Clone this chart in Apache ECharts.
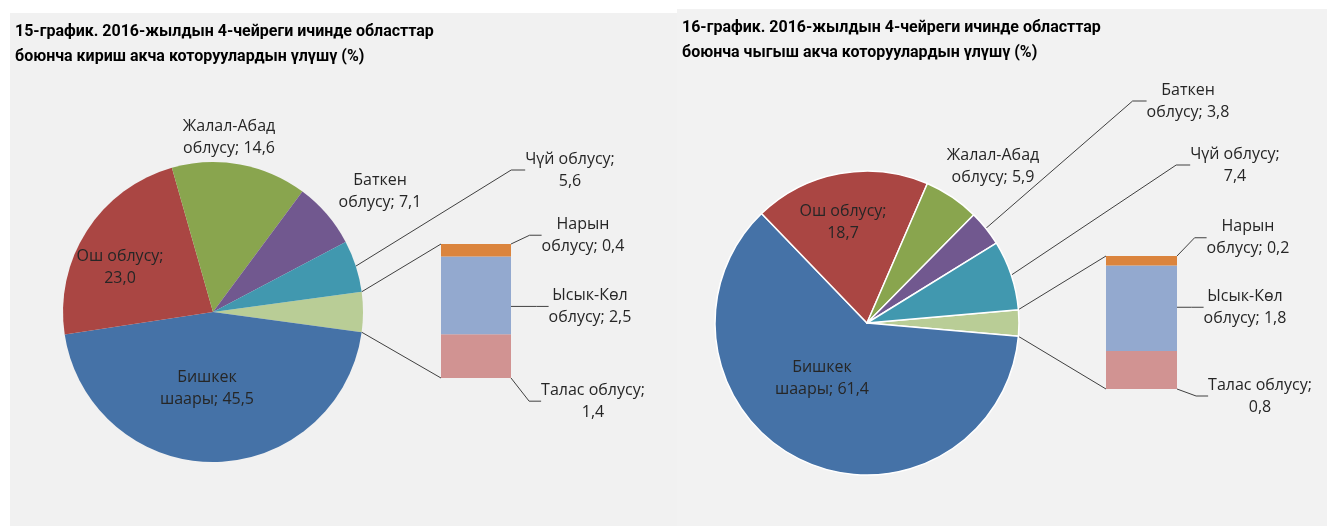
<!DOCTYPE html>
<html>
<head>
<meta charset="utf-8">
<title>Акча которуулардын үлүшү</title>
<script src="https://cdn.jsdelivr.net/npm/echarts@6/dist/echarts.min.js"></script>
<style>
  html, body { margin: 0; padding: 0; background: #fff; }
  #main { width: 1327px; height: 526px; }
</style>
</head>
<body>
<div id="main"></div>
<script>
// аймактар (чоң тегерек)
var regions = ['Бишкек\nшаары', 'Ош облусу', 'Жалал-Абад\nоблусу', 'Баткен\nоблусу', 'Чүй облусу'];
var inValues = [45.5, 23.0, 14.6, 7.1, 5.6];   // 15-график, кириш
var outValues = [61.4, 18.7, 5.9, 3.8, 7.4];   // 16-график, чыгыш
// кичине аймактар (тилке)
var smallRegions = ['Нарын\nоблусу', 'Ысык-Көл\nоблусу', 'Талас облусу'];
var inSmall = [0.4, 2.5, 1.4];
var outSmall = [0.2, 1.8, 0.8];

var titles = [
    '15-график. 2016-жылдын 4-чейреги ичинде областтар\nбоюнча кириш акча которуулардын үлүшү (%)',
    '16-график. 2016-жылдын 4-чейреги ичинде областтар\nбоюнча чыгыш акча которуулардын үлүшү (%)'
];

var regionColors = ['#4572A7', '#AA4643', '#89A54E', '#71588F', '#4198AF'];
var smallColors = ['#DB843D', '#93A9CF', '#D19392'];
var otherColor = '#B9CD96';
var textColor = '#262626';
var lineColor = '#404040';

// жайгашуу
var charts = [
    {
        values: inValues, small: inSmall, title: titles[0], titleLeft: 15, titleTop: 19,
        pie: { cx: 213, cy: 312, r: 150 }, border: 0,
        bar: { left: 441, top: 244, width: 70, height: 134 },
        lined: [4],
        pieLabels: [[-6, 76], [-93, -45], [16, -175], [167, -121], [357, -142]],
        barLabels: [[72, -15], [79, 11], [82, 45]]
    },
    {
        values: outValues, small: outSmall, title: titles[1], titleLeft: 682, titleTop: 15,
        pie: { cx: 867, cy: 323, r: 152 }, border: 1.5,
        bar: { left: 1106, top: 256, width: 71, height: 133 },
        lined: [3, 4],
        pieLabels: [[-45, 55], [-24, -101], [126, -157], [321, -222], [368, -158]],
        barLabels: [[71, -23], [68, -1], [83, 26]]
    }
];

function fmt(name, v) {
    var s = v.toFixed(1).replace('.', ',');
    return name.indexOf('\n') >= 0 ? name + '; ' + s : name + ';\n' + s;
}
function sum(a) { return a.reduce(function (x, y) { return x + y; }, 0); }

var labelStyle = { color: textColor, fontFamily: 'Open Sans', fontSize: 16, lineHeight: 22 };

var series = [], grid = [], xAxis = [], yAxis = [], title = [];
var graphic = [
    { type: 'rect', shape: { x: 10, y: 13, width: 667, height: 513 }, style: { fill: '#f1f1f1' }, z: -10 },
    { type: 'rect', shape: { x: 677, y: 9, width: 650, height: 517 }, style: { fill: '#f2f2f2' }, z: -10 }
];

charts.forEach(function (c, k) {
    var other = sum(c.small);
    var total = sum(c.values) + other;
    var half = other / total * 180;

    title.push({
        text: c.title, left: c.titleLeft, top: c.titleTop, padding: 0,
        textStyle: { fontFamily: 'Roboto', fontSize: 16, fontWeight: 'bold', color: '#000', lineHeight: 25 }
    });

    var data = [{
        name: 'other', value: other, itemStyle: { color: otherColor },
        label: { show: false }, labelLine: { show: false }
    }];
    regions.forEach(function (n, i) {
        data.push({
            name: n, value: c.values[i],
            itemStyle: { color: regionColors[i] },
            labelLine: { show: c.lined.indexOf(i) >= 0 }
        });
    });

    series.push({
        type: 'pie',
        center: [c.pie.cx, c.pie.cy],
        radius: c.pie.r,
        startAngle: half,
        clockwise: true,
        avoidLabelOverlap: false,
        silent: true,
        animation: false,
        itemStyle: { borderColor: '#fff', borderWidth: c.border },
        label: Object.assign({
            show: true,
            formatter: function (p) { return fmt(p.name, p.value); }
        }, labelStyle),
        labelLine: { length: 10, length2: 14, lineStyle: { color: lineColor, width: 1 } },
        labelLayout: function (p) {
            var o = c.pieLabels[p.dataIndex - 1];
            if (!o) return {};
            return { x: c.pie.cx + o[0], y: c.pie.cy + o[1], align: 'center', verticalAlign: 'middle' };
        },
        data: data
    });

    grid.push({ left: c.bar.left, top: c.bar.top, width: c.bar.width, height: c.bar.height });
    xAxis.push({ type: 'category', gridIndex: k, data: [''], show: false });
    yAxis.push({ type: 'value', gridIndex: k, min: 0, max: other, show: false });

    // стек астыдан өйдө: Талас, Ысык-Көл, Нарын
    for (var j = c.small.length - 1; j >= 0; j--) {
        (function (j) {
            series.push({
                type: 'bar',
                xAxisIndex: k, yAxisIndex: k,
                stack: 'small' + k,
                barWidth: '100%',
                silent: true,
                animation: false,
                itemStyle: { color: smallColors[j] },
                label: Object.assign({
                    show: true, position: 'right',
                    formatter: fmt(smallRegions[j], c.small[j])
                }, labelStyle),
                labelLine: { show: true, length2: 12, lineStyle: { color: lineColor, width: 1 } },
                labelLayout: function (p) {
                    var o = c.barLabels[j];
                    return {
                        x: p.rect.x + p.rect.width + o[0],
                        y: p.rect.y + p.rect.height / 2 + o[1],
                        align: 'center', verticalAlign: 'middle'
                    };
                },
                data: [c.small[j]]
            });
        })(j);
    }

    // тегеректен тилкеге туташтыруучу сызыктар
    var a = half * Math.PI / 180;
    var ex = c.pie.cx + c.pie.r * Math.cos(a);
    var ey = c.pie.r * Math.sin(a);
    graphic.push({
        type: 'polyline', silent: true,
        shape: { points: [[ex, c.pie.cy - ey], [c.bar.left, c.bar.top]] },
        style: { stroke: lineColor, lineWidth: 1, fill: null }
    });
    graphic.push({
        type: 'polyline', silent: true,
        shape: { points: [[ex, c.pie.cy + ey], [c.bar.left, c.bar.top + c.bar.height]] },
        style: { stroke: lineColor, lineWidth: 1, fill: null }
    });
});

var myChart = echarts.init(document.getElementById('main'));
myChart.setOption({
    backgroundColor: '#fff',
    animation: false,
    title: title,
    grid: grid,
    xAxis: xAxis,
    yAxis: yAxis,
    graphic: graphic,
    series: series
});
</script>
</body>
</html>
